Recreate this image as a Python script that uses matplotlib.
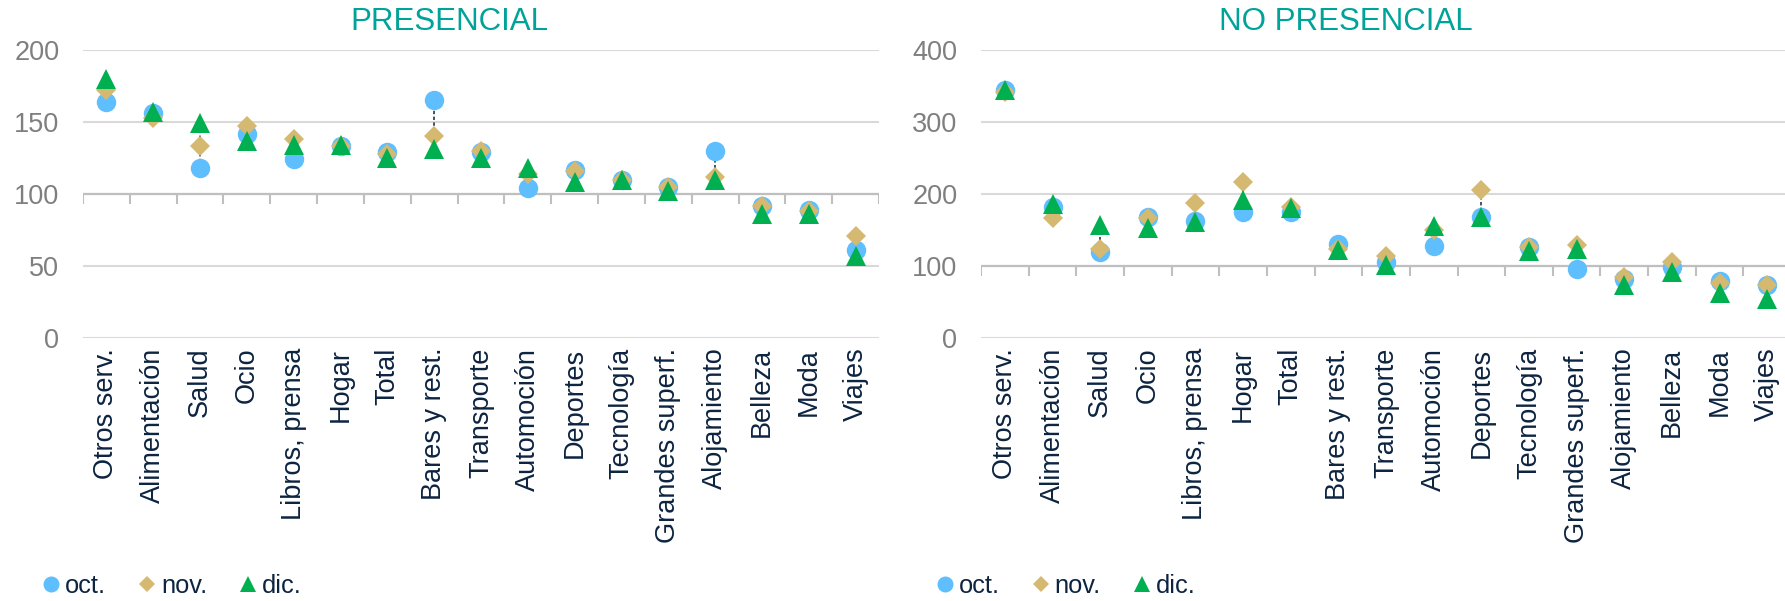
import numpy as np
import matplotlib.pyplot as plt
from matplotlib.lines import Line2D

plt.rcParams['font.family'] = ['Liberation Sans', 'DejaVu Sans']

categories = ['Otros serv.', 'Alimentación', 'Salud', 'Ocio', 'Libros, prensa', 'Hogar', 'Total',
              'Bares y rest.', 'Transporte', 'Automoción', 'Deportes', 'Tecnología', 'Grandes superf.',
              'Alojamiento', 'Belleza', 'Moda', 'Viajes']

# PRESENCIAL
pres_oct = [164, 156, 118, 142, 124, 133, 129, 165, 129, 104, 117, 110, 105, 130, 92, 89, 61]
pres_nov = [172, 153, 133, 147, 138, 133, 128, 140, 130, 114, 116, 110, 105, 112, 92, 88, 71]
pres_dic = [180, 157, 149, 137, 134, 134, 125, 131, 125, 118, 108, 110, 102, 110, 86, 86, 57]

# NO PRESENCIAL
nop_oct = [345, 182, 119, 168, 162, 175, 175, 131, 106, 128, 168, 127, 96, 82, 99, 79, 74]
nop_nov = [342, 166, 124, 167, 187, 216, 182, 124, 114, 150, 205, 127, 129, 85, 105, 76, 73]
nop_dic = [344, 186, 157, 153, 161, 192, 180, 122, 102, 155, 168, 121, 124, 73, 91, 63, 54]

months = ['oct.', 'nov.', 'dic.']
c_oct = '#5FBEFE'
c_nov = '#D5B970'
c_dic = '#00B050'
teal = '#00A39A'
navy = '#0D2441'
grey = '#7F7F7F'
grid = '#D9D9D9'
axcol = '#BFBFBF'

fig = plt.figure(figsize=(17.85, 6.01), dpi=100)
ax1 = fig.add_axes([0.0465, 0.4376, 0.4460, 0.4792])
ax2 = fig.add_axes([0.5496, 0.4376, 0.4538, 0.4792])


def panel(ax, oct_, nov_, dic_, ymax, ystep):
    x = np.arange(len(categories))
    vals = np.array([oct_, nov_, dic_])
    # high-low lines
    ax.vlines(x, vals.min(axis=0), vals.max(axis=0), colors=navy, linestyles=(0, (2.2, 1.6)),
              linewidth=1.1, zorder=2)
    ax.plot(x, oct_, 'o', color=c_oct, markersize=14, markeredgewidth=0, zorder=3, clip_on=False)
    ax.plot(x, nov_, 'D', color=c_nov, markersize=10, markeredgewidth=0, zorder=4, clip_on=False)
    ax.plot(x, dic_, '^', color=c_dic, markersize=14, markeredgewidth=0, zorder=5, clip_on=False)

    ax.set_xlim(-0.5, len(categories) - 0.5)
    ax.set_ylim(0, ymax)
    ax.set_yticks(np.arange(0, ymax + 1, ystep))
    ax.yaxis.grid(True, color=grid, linewidth=1.5)
    ax.set_axisbelow(True)
    for s in ax.spines.values():
        s.set_visible(False)
    ax.tick_params(axis='y', length=0, labelsize=19.5, labelcolor=grey, pad=17)
    ax.set_xticks(x)
    ax.set_xticklabels(categories, rotation=90, fontsize=19.5, color=navy)
    ax.tick_params(axis='x', length=0, pad=7)

    # category axis crosses at 100, tick marks between categories
    cross = 100
    ax.axhline(cross, color=axcol, linewidth=1.6, zorder=1)
    bounds = np.arange(len(categories) + 1) - 0.5
    ax.vlines(bounds, cross - ymax * 0.036, cross, colors=axcol, linewidth=1.5, zorder=1)


panel(ax1, pres_oct, pres_nov, pres_dic, 200, 50)
panel(ax2, nop_oct, nop_nov, nop_dic, 400, 100)

fig.text(0.2515, 0.964, 'PRESENCIAL', color=teal, fontsize=22.5, ha='center', va='center')
fig.text(0.754, 0.964, 'NO PRESENCIAL', color=teal, fontsize=22.5, ha='center', va='center')

handles = [Line2D([], [], marker='o', color=c_oct, linestyle='none', markersize=11.5, markeredgewidth=0),
           Line2D([], [], marker='D', color=c_nov, linestyle='none', markersize=8.5, markeredgewidth=0),
           Line2D([], [], marker='^', color=c_dic, linestyle='none', markersize=11.5, markeredgewidth=0)]

for xpos in (0.0243, 0.525):
    leg = fig.legend(handles, months, loc='center left', bbox_to_anchor=(xpos, 0.025), ncol=3,
                     frameon=False, fontsize=18.3, handletextpad=0.25, columnspacing=1.31,
                     handlelength=0.6, borderpad=0, borderaxespad=0)
    for t in leg.get_texts():
        t.set_color(navy)

fig.savefig('out.png', dpi=100)
